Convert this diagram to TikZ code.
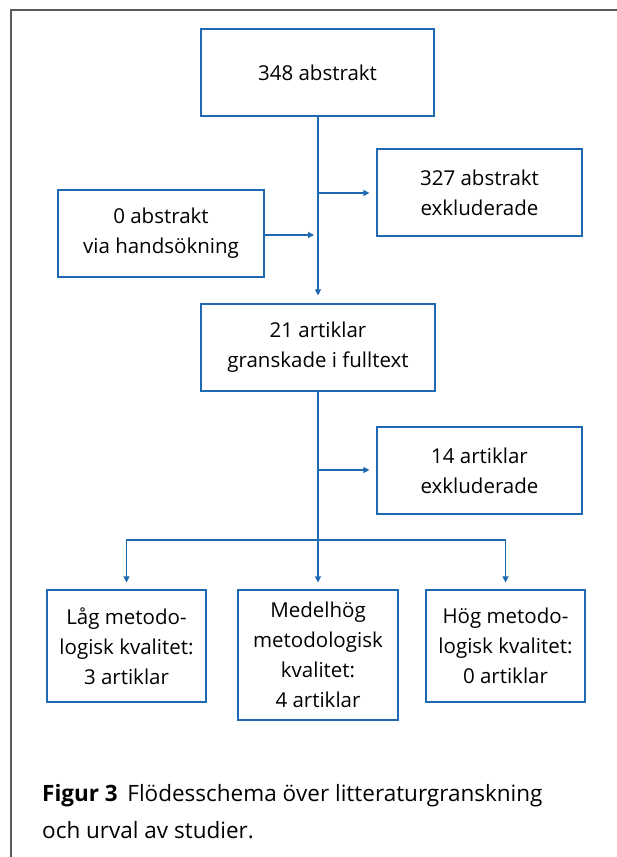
\documentclass[tikz,border=0pt]{standalone}
\usepackage{fontspec}
\setmainfont{Open Sans}
\usetikzlibrary{arrows.meta}
\definecolor{lineblue}{RGB}{30,105,180}
\definecolor{framegray}{RGB}{90,90,90}
\tikzset{
  box/.style={draw=lineblue, line width=1.2pt, align=center, inner sep=0pt,
    font=\fontsize{20.5}{30}\selectfont, text=black},
  arr/.style={draw=lineblue, line width=1.2pt, -{Triangle[length=6pt,width=6pt]}, shorten >=7pt},
  conn/.style={draw=lineblue, line width=1.2pt}
}
\begin{document}
\begin{tikzpicture}[x=1pt,y=-1pt]
\useasboundingbox (0,0) rectangle (617,857);
\fill[white] (0,0) rectangle (617,857);
% frame
\draw[framegray, line width=2pt] (11,857) -- (11,10) -- (617,10);

\node[box, minimum width=233pt, minimum height=87pt] (b1) at (317.5,72.5) {348 abstrakt};
\node[box, minimum width=205pt, minimum height=87pt] (b2) at (479.5,192.5) {327 abstrakt\\exkluderade};
\node[box, minimum width=206pt, minimum height=87pt] (b3) at (161,233.5) {0 abstrakt\\via handsökning};
\node[box, minimum width=234pt, minimum height=87pt] (b4) at (318,347.5) {21 artiklar\\granskade i fulltext};
\node[box, minimum width=205pt, minimum height=87pt] (b5) at (479.5,470.5) {14 artiklar\\exkluderade};
\node[box, minimum width=159pt, minimum height=112pt] (b6) at (126.5,646) {Låg metodo-\\logisk kvalitet:\\3 artiklar};
\node[box, minimum width=160pt, minimum height=130pt] (b7) at (318,655) {Medelhög\\metodologisk\\kvalitet:\\4 artiklar};
\node[box, minimum width=159pt, minimum height=112pt] (b8) at (505.5,646) {Hög metodo-\\logisk kvalitet:\\0 artiklar};

\coordinate (j1) at (318,193);
\coordinate (j2) at (318,235);
\coordinate (j3) at (318,470);
\coordinate (j4) at (318,540);

\draw[arr, shorten >=8pt] (b1.south -| j1) -- (b4.north -| j1);
\draw[arr] (j1) -- (j1 -| b2.west);
\draw[arr, shorten >=4pt] (b3.east |- j2) -- (j2);
\draw[arr] (b4.south -| j3) -- (b7.north -| j3);
\draw[arr] (j3) -- (j3 -| b5.west);
\draw[arr] (j4) -| (b6.north);
\draw[arr] (j4) -| (b8.north);

\node[anchor=base west, inner sep=0pt, font=\fontsize{22.5}{37}\selectfont, align=left] (cap) at (42,838)
  {\textbf{Figur 3}\, Flödesschema över litteraturgranskning\\och urval av studier.};
\end{tikzpicture}
\end{document}
